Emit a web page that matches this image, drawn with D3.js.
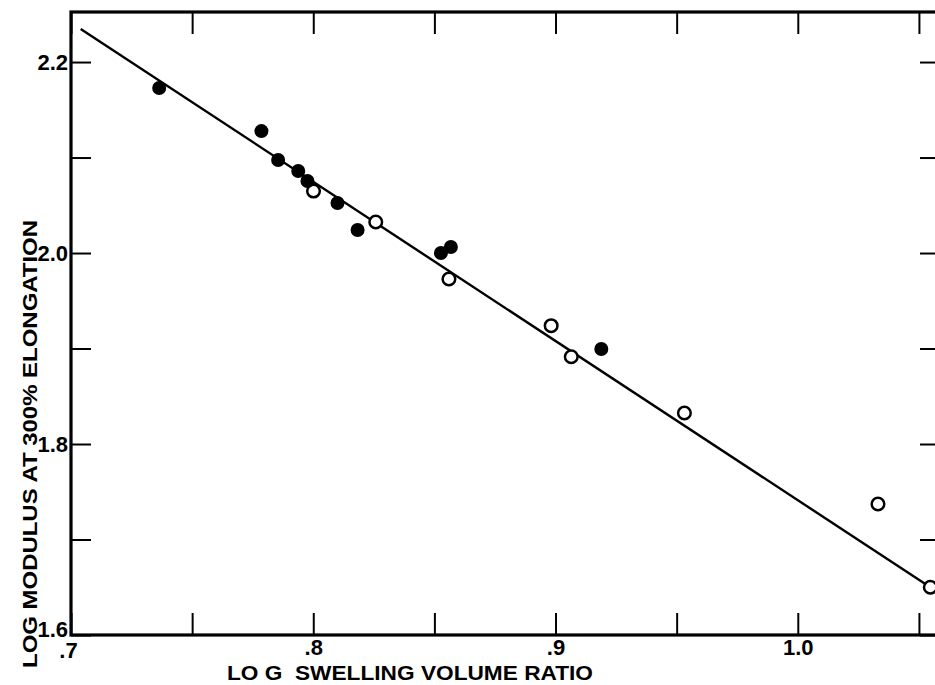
<!DOCTYPE html>
<html>
<head>
<meta charset="utf-8">
<title>Log modulus vs log swelling volume ratio</title>
<script src="https://cdn.jsdelivr.net/npm/d3@7"></script>
<style>
  body { margin: 0; background: #fff; }
  svg { display: block; }
  .lbl { font-family: "Liberation Sans", Arial, sans-serif; font-size: 21px; font-weight: bold; fill: #000; white-space: pre; }
</style>
</head>
<body>
<svg id="chart" width="935" height="685"></svg>
<script>
// filled circles
var filledX = [0.7364, 0.7786, 0.7855, 0.7938, 0.7976, 0.8100, 0.8183, 0.8527, 0.8568, 0.9189];
var filledY = [2.1728, 2.1277, 2.0974, 2.0859, 2.0754, 2.0524, 2.0241, 2.0000, 2.0063, 1.8995];
// open circles
var openX = [0.8001, 0.8258, 0.8560, 0.8982, 0.9065, 0.9532, 1.0331, 1.0547];
var openY = [2.0649, 2.0325, 1.9728, 1.9239, 1.8914, 1.8325, 1.7372, 1.6500];
// fitted line
var lineX = [0.704, 1.0547];
var lineY = [2.2346, 1.6500];

var xTicks = [0.7, 0.75, 0.8, 0.85, 0.9, 0.95, 1.0, 1.05];
var xTickLabels = [".7", "", ".8", "", ".9", "", "1.0", ""];
var yTicks = [1.6, 1.7, 1.8, 1.9, 2.0, 2.1, 2.2];
var yTickLabels = ["1.6", "", "1.8", "", "2.0", "", "2.2"];

var svg = d3.select("#chart");
var mLeft = 71, mRight = 940, mTop = 12, mBottom = 635;

var x = d3.scaleLinear().domain([0.7, 1.0587]).range([mLeft, mRight]);
var y = d3.scaleLinear().domain([1.6, 2.2524]).range([mBottom, mTop]);

function styleTicks(g) {
  g.select(".domain").remove();
  g.selectAll(".tick line").attr("stroke-width", 2);
  g.selectAll(".tick text")
   .style("font-family", "'Liberation Sans', Arial, sans-serif")
   .style("font-size", "22px")
   .style("font-weight", "bold")
   .style("fill", "#000");
}

// frame
svg.append("rect")
   .attr("x", mLeft).attr("y", mTop)
   .attr("width", mRight - mLeft).attr("height", mBottom - mTop)
   .attr("fill", "none").attr("stroke", "#000").attr("stroke-width", 3.2);

// bottom axis, ticks pointing inward
var xb = svg.append("g")
   .attr("transform", "translate(0," + mBottom + ")")
   .call(d3.axisBottom(x).tickValues(xTicks).tickSize(-22).tickPadding(4)
         .tickFormat(function(d, i){ return xTickLabels[i]; }));
styleTicks(xb);
xb.selectAll(".tick text").attr("dy", "0.72em");
xb.selectAll(".tick text").filter(function(d){ return d === 0.7; }).attr("dx", "-3").attr("dy", "0.85em");

// top axis ticks
var xt = svg.append("g")
   .attr("transform", "translate(0," + mTop + ")")
   .call(d3.axisTop(x).tickValues(xTicks).tickSize(-22).tickFormat(""));
styleTicks(xt);

// left axis
var yl = svg.append("g")
   .attr("transform", "translate(" + mLeft + ",0)")
   .call(d3.axisLeft(y).tickValues(yTicks).tickSize(-20).tickPadding(3)
         .tickFormat(function(d, i){ return yTickLabels[i]; }));
styleTicks(yl);
yl.selectAll(".tick text").filter(function(d){ return d === 1.6; }).attr("dy", "0.05em");

// right axis ticks
var yr = svg.append("g")
   .attr("transform", "translate(" + mRight + ",0)")
   .call(d3.axisRight(y).tickValues(yTicks).tickSize(-20).tickFormat(""));
styleTicks(yr);

// fitted line
var pts = lineX.map(function(v, i){ return [v, lineY[i]]; });
svg.append("path")
   .datum(pts)
   .attr("d", d3.line().x(function(d){ return x(d[0]); }).y(function(d){ return y(d[1]); }))
   .attr("fill", "none").attr("stroke", "#000").attr("stroke-width", 2.4);

// open points
svg.selectAll(".open")
   .data(openX)
   .enter().append("circle")
   .attr("class", "open")
   .attr("cx", function(d){ return x(d); })
   .attr("cy", function(d, i){ return y(openY[i]); })
   .attr("r", 6.3)
   .attr("fill", "#fff").attr("stroke", "#000").attr("stroke-width", 2.5);

// filled points
svg.selectAll(".filled")
   .data(filledX)
   .enter().append("circle")
   .attr("class", "filled")
   .attr("cx", function(d){ return x(d); })
   .attr("cy", function(d, i){ return y(filledY[i]); })
   .attr("r", 7)
   .attr("fill", "#000");

// axis titles
svg.append("text").attr("class", "lbl")
   .attr("x", 410).attr("y", 680)
   .attr("text-anchor", "middle")
   .attr("textLength", 366)
   .attr("lengthAdjust", "spacingAndGlyphs")
   .text("LO G  SWELLING VOLUME RATIO");

svg.append("text").attr("class", "lbl")
   .attr("transform", "translate(37,444) rotate(-90)")
   .attr("text-anchor", "middle")
   .attr("textLength", 448)
   .attr("lengthAdjust", "spacingAndGlyphs")
   .text("LOG MODULUS AT 300% ELONGATION");
</script>
</body>
</html>
